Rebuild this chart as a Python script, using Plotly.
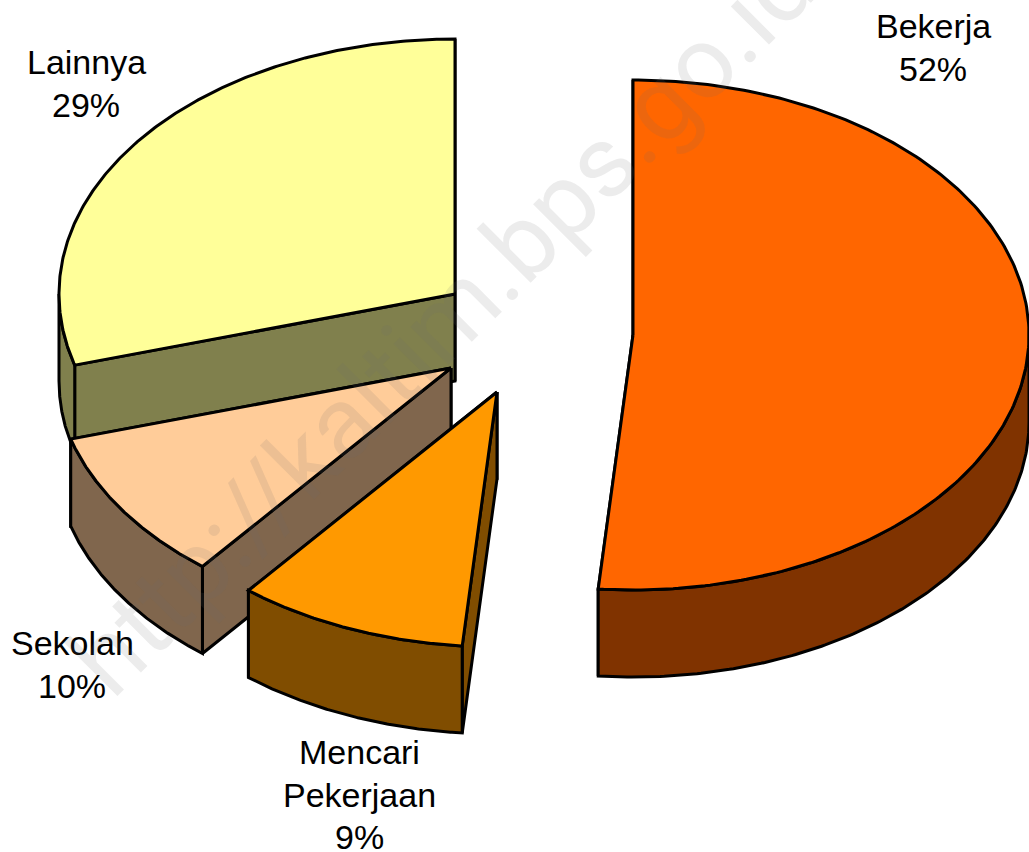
import numpy as np
import plotly.graph_objects as go

categories = ["Bekerja", "Mencari Pekerjaan", "Sekolah", "Lainnya"]
values = [51.4, 9.4, 9.7, 29.5]
label_percent = ["52%", "9%", "10%", "29%"]
label_lines = [["Bekerja"], ["Mencari", "Pekerjaan"], ["Sekolah"], ["Lainnya"]]
top_colors = ["#FF6600", "#FF9900", "#FFCC99", "#FFFF99"]
side_colors = ["#803300", "#804D00", "#80664D", "#80804D"]
centers_x = [633, 497, 451, 455]
centers_y = [335, 392, 368, 294]
label_x = [933, 359, 72, 86]
label_first_y = [26, 752, 643, 62]

RX, RY, DEPTH = 396, 255, 87
LW = 3
LINE_GAP = 42.5


def pt(cx, cy, th):
    return cx + RX * np.sin(th), cy - RY * np.cos(th)


fig = go.Figure()


def poly(xs, ys, color):
    fig.add_trace(go.Scatter(
        x=list(xs) + [xs[0]], y=list(ys) + [ys[0]], mode="lines", fill="toself",
        fillcolor=color, line=dict(color="black", width=LW), hoverinfo="skip",
        showlegend=False))


starts = np.cumsum([0] + values[:-1]) / sum(values) * 2 * np.pi
ends = np.cumsum(values) / sum(values) * 2 * np.pi

for i in [3, 2, 1, 0]:
    cx, cy = centers_x[i], centers_y[i]
    a, b = starts[i], ends[i]
    mid = (a + b) / 2
    mx, my = pt(cx, cy, mid)
    faces = []
    for th in (a, b):
        px, py = pt(cx, cy, th)
        # the cut face shows when the slice lies above its edge on screen
        ex, ey = px - cx, py - cy
        if abs(ex) < 1:
            visible = False
        else:
            visible = my < cy + ey * (mx - cx) / ex
        faces.append((visible, px, py))
    for vis, px, py in sorted(faces, key=lambda f: f[0]):
        poly([cx, px, px, cx], [cy, py, py + DEPTH, cy + DEPTH], side_colors[i])
    # outer rim, only the part facing the viewer
    lo, hi = max(a, np.pi / 2), min(b, 3 * np.pi / 2)
    if hi > lo:
        t = np.linspace(lo, hi, 160)
        x, y = pt(cx, cy, t)
        poly(list(x) + list(x[::-1]), list(y) + list(y[::-1] + DEPTH), side_colors[i])
    t = np.linspace(a, b, 240)
    x, y = pt(cx, cy, t)
    poly([cx] + list(x), [cy] + list(y), top_colors[i])

for lines, pct, lx, ly in zip(label_lines, label_percent, label_x, label_first_y):
    for k, text in enumerate(lines + [pct]):
        fig.add_annotation(x=lx, y=ly + k * LINE_GAP, text=text, showarrow=False,
                           xref="x", yref="y", align="center",
                           font=dict(family="Liberation Sans", size=34, color="black"))

fig.add_annotation(x=442, y=322, text="http://kaltim.bps.go.id", showarrow=False,
                   textangle=-45, xref="x", yref="y",
                   font=dict(family="Roboto", size=102, color="rgba(110,110,110,0.13)"))

fig.update_layout(
    width=1029, height=852, margin=dict(l=0, r=0, t=0, b=0),
    paper_bgcolor="white", plot_bgcolor="white", showlegend=False,
    xaxis=dict(range=[0, 1029], visible=False, fixedrange=True),
    yaxis=dict(range=[852, 0], visible=False, fixedrange=True),
)
fig.write_html("out.html", config={"displayModeBar": False},
               post_script="document.body.style.margin='0';document.documentElement.style.overflow='hidden';")
